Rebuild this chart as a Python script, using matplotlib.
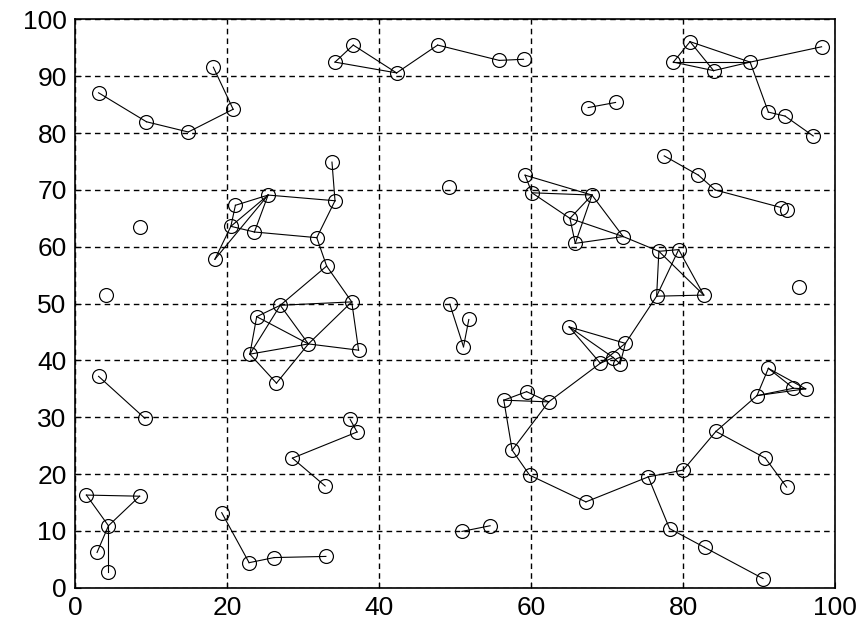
import matplotlib
matplotlib.use("Agg")
import matplotlib.pyplot as plt

# --- node positions ---
node_x = [3.1, 9.4, 14.9, 20.8, 18.2, 34.2, 36.6, 42.3, 47.7, 55.8,
          59.0, 67.5, 71.1, 78.7, 80.9, 84.0, 88.8, 98.2, 91.2, 93.4,
          97.1, 77.5, 82.0, 84.2, 92.9, 93.6, 33.8, 34.2, 25.4, 21.1,
          20.5, 23.6, 18.4, 31.8, 49.2, 8.5, 4.1, 33.1, 27.0, 36.4,
          23.9, 30.7, 37.3, 23.0, 26.5, 49.3, 51.8, 51.1, 59.2, 60.1,
          68.0, 65.1, 65.8, 72.1, 76.8, 79.4, 76.5, 82.7, 95.2, 65.0,
          72.4, 69.1, 70.8, 71.7, 56.4, 59.4, 62.3, 57.5, 59.8, 67.2,
          75.4, 80.0, 84.3, 89.7, 91.2, 94.5, 96.1, 90.8, 93.6, 78.2,
          82.8, 90.5, 3.1, 9.2, 36.2, 37.1, 28.6, 32.9, 1.5, 8.5,
          4.4, 2.9, 4.4, 19.3, 22.9, 26.2, 33.0, 50.9, 54.6]
node_y = [87.1, 82.0, 80.2, 84.2, 91.6, 92.5, 95.5, 90.6, 95.5, 92.8,
          93.0, 84.5, 85.4, 92.5, 96.1, 91.0, 92.5, 95.2, 83.7, 83.0,
          79.5, 76.0, 72.6, 70.0, 66.9, 66.5, 74.9, 68.1, 69.1, 67.3,
          63.6, 62.6, 57.8, 61.6, 70.5, 63.4, 51.5, 56.6, 49.7, 50.3,
          47.7, 42.9, 41.8, 41.1, 36.0, 49.9, 47.2, 42.4, 72.6, 69.5,
          69.1, 65.0, 60.6, 61.8, 59.2, 59.5, 51.3, 51.5, 53.0, 45.9,
          43.0, 39.5, 40.5, 39.4, 33.0, 34.5, 32.7, 24.2, 19.8, 15.1,
          19.5, 20.7, 27.5, 33.8, 38.6, 35.1, 35.0, 22.8, 17.7, 10.4,
          7.1, 1.6, 37.2, 29.8, 29.6, 27.4, 22.8, 17.9, 16.3, 16.1,
          10.9, 6.2, 2.8, 13.2, 4.4, 5.3, 5.5, 9.9, 10.9]

# --- links between nodes (index pairs) ---
edges = [(0, 1), (1, 2), (2, 3), (3, 4),
         (5, 6), (6, 7), (5, 7), (7, 8), (8, 9), (9, 10),
         (11, 12),
         (13, 14), (13, 16), (14, 16), (14, 15), (13, 15), (15, 16), (16, 17),
         (16, 18), (18, 19), (19, 20),
         (21, 22), (22, 23), (23, 24),
         (26, 27), (27, 28), (28, 29), (28, 30), (29, 30), (30, 31), (31, 28),
         (32, 30), (32, 28), (31, 33), (27, 33), (33, 37),
         (37, 38), (37, 39), (38, 39), (38, 40), (38, 41), (38, 43), (40, 41),
         (40, 43), (43, 41), (41, 39), (41, 42), (39, 42), (41, 44), (43, 44),
         (45, 47), (46, 47),
         (48, 49), (48, 50), (49, 50), (49, 51), (51, 50), (52, 50), (51, 52),
         (51, 53), (52, 53), (50, 53), (53, 54), (54, 55), (54, 56), (54, 57),
         (55, 56), (55, 57), (56, 57),
         (56, 60), (59, 60), (59, 61), (59, 62), (60, 61), (60, 63), (61, 62),
         (62, 63), (61, 66),
         (64, 66), (64, 65), (65, 66), (64, 67), (66, 67), (67, 68), (68, 69),
         (69, 70), (70, 71), (71, 72), (72, 73), (72, 77), (77, 78), (70, 79),
         (79, 80), (80, 81),
         (73, 74), (74, 75), (74, 76), (73, 75), (73, 76), (75, 76),
         (82, 83), (84, 85), (85, 86), (86, 87),
         (88, 89), (88, 90), (89, 90), (90, 91), (90, 92),
         (93, 94), (94, 95), (95, 96), (97, 98)]

x_ticks = [0, 20, 40, 60, 80, 100]
y_ticks = [0, 10, 20, 30, 40, 50, 60, 70, 80, 90, 100]

plt.rcParams['font.family'] = ['Liberation Sans', 'DejaVu Sans']

fig = plt.figure(figsize=(8.62, 6.23), dpi=100)
ax = fig.add_axes([0.087, 0.0567, 0.882, 0.912])

# edges first, nodes on top
for i, j in edges:
    ax.plot([node_x[i], node_x[j]], [node_y[i], node_y[j]],
            color='black', linewidth=0.8, zorder=2)
ax.plot(node_x, node_y, linestyle='none', marker='o', markersize=10,
        markerfacecolor='none', markeredgecolor='black', markeredgewidth=0.85, zorder=3)

ax.set_xlim(0, 100)
ax.set_ylim(0, 100)
ax.set_xticks(x_ticks)
ax.set_yticks(y_ticks)
ax.grid(True, color='black', linestyle=(0, (4, 3)), linewidth=1)
ax.tick_params(direction='in', length=4, labelsize=19, pad=6)
for s in ax.spines.values():
    s.set_linewidth(1.2)

fig.savefig('out.png', dpi=100)
